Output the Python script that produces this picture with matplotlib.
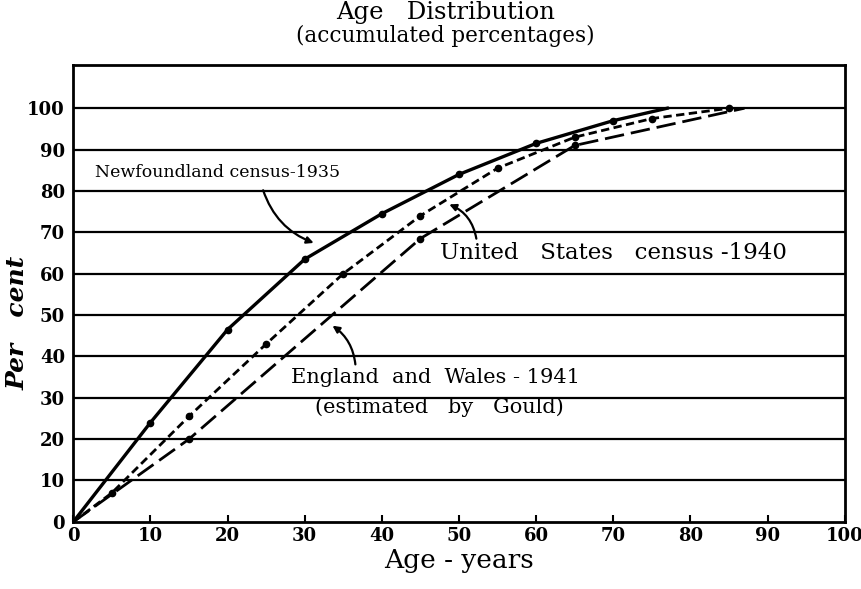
import matplotlib.pyplot as plt

# accumulated age distribution (per cent)
nf_age = [0, 10, 20, 30, 40, 50, 60, 70, 77]
nf_pct = [0, 24, 46.5, 63.5, 74.5, 84, 91.5, 97, 100]
us_age = [0, 5, 15, 25, 35, 45, 55, 65, 75, 85]
us_pct = [0, 7, 25.5, 43, 60, 74, 85.5, 93, 97.5, 100]
ew_age = [0, 15, 45, 65, 87]
ew_pct = [0, 20, 68.5, 91, 100]

ticks = list(range(0, 101, 10))

plt.rcParams['font.family'] = 'DejaVu Serif'

fig = plt.figure(figsize=(8.62, 5.89), dpi=100)
ax = fig.add_axes([0.085, 0.114, 0.895, 0.776])

for y in ticks[1:]:
    ax.axhline(y, color='black', linewidth=1.6, zorder=1)

ax.plot(nf_age, nf_pct, '-', color='black', linewidth=2.4,
        marker='o', markersize=4.5, markevery=list(range(1, 8)), zorder=3)
ax.plot(us_age, us_pct, color='black', linewidth=2.0, dashes=(3, 1.6),
        marker='o', markersize=4.5, markevery=list(range(1, 10)), zorder=3)
ax.plot(ew_age, ew_pct, color='black', linewidth=2.0, dashes=(7, 2.5),
        marker='o', markersize=4.5, markevery=[1, 2, 3], zorder=3)

ax.set_xlim(0, 100)
ax.set_ylim(0, 110.5)
ax.set_xticks(ticks)
ax.set_yticks(ticks)
ax.tick_params(axis='x', direction='in', length=5, width=1.5, labelsize=13, pad=4)
ax.tick_params(axis='y', length=0, labelsize=13, pad=6)
for lab in ax.get_xticklabels() + ax.get_yticklabels():
    lab.set_fontweight('bold')
for s in ax.spines.values():
    s.set_linewidth(2)

ax.text(2.8, 84.5, 'Newfoundland census-1935', va='center', ha='left', fontsize=12.5)
ax.annotate('', xy=(31.5, 67.2), xytext=(24.5, 80.8),
            arrowprops=dict(arrowstyle='-|>', color='black', lw=1.6,
                            connectionstyle='arc3,rad=0.25'))
ax.text(47.6, 65, 'United   States   census -1940', va='center', ha='left', fontsize=16.5)
ax.annotate('', xy=(48.4, 77), xytext=(52.3, 67.8),
            arrowprops=dict(arrowstyle='-|>', color='black', lw=1.6,
                            connectionstyle='arc3,rad=0.3'))
ax.text(47.0, 34.8, 'England  and  Wales - 1941', va='center', ha='center', fontsize=15)
ax.text(47.4, 27.8, '(estimated   by   Gould)', va='center', ha='center', fontsize=15)
ax.annotate('', xy=(33.3, 47.8), xytext=(36.6, 37.4),
            arrowprops=dict(arrowstyle='-|>', color='black', lw=1.6,
                            connectionstyle='arc3,rad=0.25'))

fig.text(0.517, 0.979, 'Age   Distribution', ha='center', va='center', fontsize=17.5)
fig.text(0.517, 0.939, '(accumulated percentages)', ha='center', va='center', fontsize=15.5)
ax.set_xlabel('Age - years', fontsize=19, labelpad=2)
ax.set_ylabel('Per   cent', fontsize=18, fontweight='bold', style='italic')
ax.yaxis.set_label_coords(-0.056, 0.435)

plt.savefig('out.png', dpi=100)
